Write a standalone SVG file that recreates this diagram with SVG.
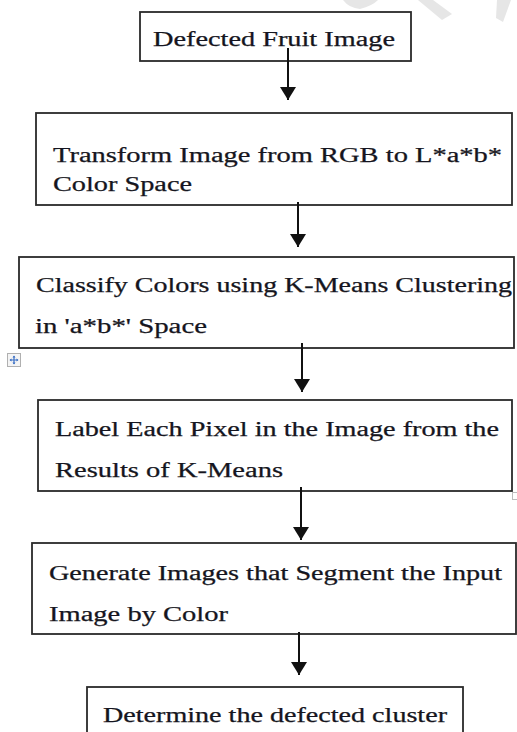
<svg xmlns="http://www.w3.org/2000/svg" width="517" height="732" viewBox="0 0 517 732">
  <style>
    .box { fill: #ffffff; stroke: #2a2a2a; stroke-width: 1.8; }
    .txt { font-family: "Liberation Serif", "Times New Roman", serif; font-size: 20px; fill: #151520; stroke: #151520; stroke-width: 0.25; }
    .conn { stroke: #111; stroke-width: 2; fill: none; }
    .wm { fill: #e6e6e6; }
  </style>
  <defs>
    <marker id="ah" viewBox="0 0 13 16" refX="13" refY="8" markerWidth="13" markerHeight="16" markerUnits="userSpaceOnUse" orient="auto">
      <path d="M0,0 L13,8 L0,16 Z" fill="#111"/>
    </marker>
  </defs>
  <rect width="517" height="732" fill="#ffffff"/>

  <g id="watermark">
    <path class="wm" d="M343,0 L378,0 Q372,6 360,9 Q349,8 343,0 Z"/>
    <path class="wm" d="M418,0 L433,0 L452,14 L442,20 Z"/>
    <path class="wm" d="M497,0 L511,0 L503,22 L496,18 Z"/>
  </g>

  <g id="node1">
    <rect class="box" x="140" y="12" width="271" height="49"/>
    <text class="txt" x="153" y="46" textLength="242" lengthAdjust="spacingAndGlyphs">Defected Fruit  Image</text>
  </g>

  <g id="node2">
    <rect class="box" x="36" y="113" width="476" height="92"/>
    <text class="txt" x="53" y="162" textLength="449" lengthAdjust="spacingAndGlyphs">Transform Image from RGB to L*a*b*</text>
    <text class="txt" x="53" y="191" textLength="139" lengthAdjust="spacingAndGlyphs">Color Space</text>
  </g>

  <g id="node3">
    <rect class="box" x="19" y="257" width="495" height="91"/>
    <text class="txt" x="36" y="292" textLength="476" lengthAdjust="spacingAndGlyphs">Classify Colors using K-Means Clustering</text>
    <text class="txt" x="35" y="333" textLength="172" lengthAdjust="spacingAndGlyphs">in 'a*b*' Space</text>
  </g>

  <g id="move-handle">
    <rect x="7.5" y="353.5" width="13" height="13" fill="#f4f4f4" stroke="#b0b0b0" stroke-width="1"/>
    <path d="M14,356 V364 M10,360 H18" stroke="#3a6fc4" stroke-width="1.2"/>
    <path d="M14,355.5 L12.5,357.5 H15.5 Z M14,364.5 L12.5,362.5 H15.5 Z M9.5,360 L11.5,358.5 V361.5 Z M18.5,360 L16.5,358.5 V361.5 Z" fill="#3a6fc4"/>
  </g>

  <g id="node4">
    <rect class="box" x="38" y="400" width="474" height="91"/>
    <text class="txt" x="55" y="436" textLength="444" lengthAdjust="spacingAndGlyphs">Label Each Pixel in the Image from the</text>
    <text class="txt" x="55" y="477" textLength="228" lengthAdjust="spacingAndGlyphs">Results of K-Means</text>
  </g>

  <g id="resize-handle">
    <rect x="512.5" y="492.5" width="5" height="7" fill="none" stroke="#bdbdbd" stroke-width="1"/>
  </g>

  <g id="node5">
    <rect class="box" x="32" y="543" width="484" height="91"/>
    <text class="txt" x="49" y="580" textLength="453" lengthAdjust="spacingAndGlyphs">Generate Images that Segment the Input</text>
    <text class="txt" x="49" y="621" textLength="179" lengthAdjust="spacingAndGlyphs">Image by Color</text>
  </g>

  <g id="node6">
    <rect class="box" x="87" y="687" width="376" height="60"/>
    <text class="txt" x="103" y="722" textLength="344" lengthAdjust="spacingAndGlyphs">Determine the defected cluster</text>
  </g>

  <g id="connectors">
    <line class="conn" x1="288" y1="48" x2="288" y2="100" marker-end="url(#ah)" stroke="#444"/>
    <line class="conn" x1="298" y1="202" x2="298" y2="247" marker-end="url(#ah)"/>
    <line class="conn" x1="302" y1="343" x2="302" y2="392" marker-end="url(#ah)"/>
    <line class="conn" x1="301" y1="487" x2="301" y2="540" marker-end="url(#ah)"/>
    <line class="conn" x1="299" y1="632" x2="299" y2="675" marker-end="url(#ah)"/>
  </g>
</svg>
